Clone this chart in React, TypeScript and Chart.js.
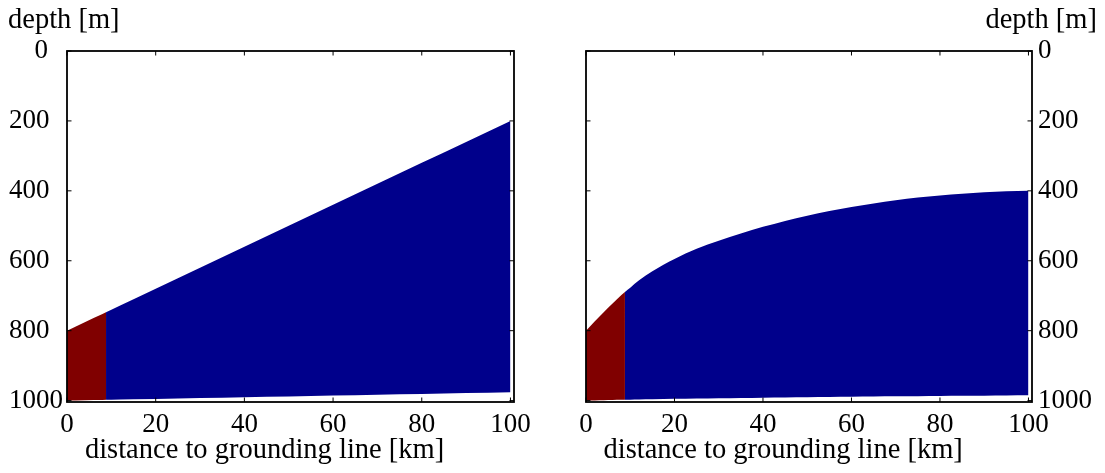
import React, { useEffect, useRef } from "react";
import { Chart, registerables } from "chart.js";

Chart.register(...registerables);

// ---- data ----
const distanceKm = [0, 2, 4, 6, 8, 8.8, 10, 12, 15, 20, 25, 30, 35, 40, 45, 50, 55, 60, 65, 70, 75, 80, 85, 90, 95, 100];
const leftTop = [800, 788, 776, 764, 752, 747.2, 740, 728, 710, 680, 650, 620, 590, 560, 530, 500, 470, 440, 410, 380, 350, 320, 290, 260, 230, 200];
const leftBottom = [1000, 999.5, 999, 998.6, 998.1, 997.9, 997.6, 997.1, 996.4, 995.2, 994, 992.8, 991.6, 990.4, 989.2, 988, 986.8, 985.6, 984.4, 983.2, 982, 980.8, 979.6, 978.4, 977.2, 976];
const rightTop = [800, 773, 747, 722, 698, 689, 677, 656, 630, 595, 566, 543, 522, 503, 486, 471, 458, 446, 436, 427, 419, 413, 408, 404, 401, 400];
const rightBottom = [1000, 999.4, 998.8, 998.3, 997.8, 997.6, 997.3, 996.8, 996.1, 995, 994, 993.1, 992.3, 991.5, 990.8, 990.1, 989.5, 988.9, 988.3, 987.8, 987.3, 986.8, 986.3, 985.8, 985.4, 985];
const cavityEdgeKm = 8.8;

const xTicks = [0, 20, 40, 60, 80, 100];
const yTicks = [0, 200, 400, 600, 800, 1000];
const xLabel = "distance to grounding line [km]";
const yLabel = "depth [m]";

const RED = "#800000";
const BLUE = "#00008b";
const TICK_FONT = '27px "Liberation Serif"';
const TITLE_FONT = '28.5px "Liberation Serif"';

function pts(xs: number[], ys: number[], keep: (x: number) => boolean) {
  const out: { x: number; y: number }[] = [];
  xs.forEach((x, i) => {
    if (keep(x)) out.push({ x, y: ys[i] });
  });
  return out;
}

const framePlugin = {
  id: "frame",
  afterDatasetsDraw(chart: any) {
    const side = chart.options.plugins.frame.side;
    const { ctx, chartArea } = chart;
    const { left, right, top, bottom } = chartArea;
    const xs = chart.scales.x;
    const ys = chart.scales.y;
    ctx.save();
    ctx.strokeStyle = "#000";
    ctx.lineWidth = 1;
    const tl = 4.5;
    xTicks.forEach((v) => {
      const px = xs.getPixelForValue(v);
      ctx.beginPath();
      ctx.moveTo(px, bottom);
      ctx.lineTo(px, bottom - tl);
      ctx.moveTo(px, top);
      ctx.lineTo(px, top + tl);
      ctx.stroke();
    });
    yTicks.forEach((v) => {
      const py = ys.getPixelForValue(v);
      ctx.beginPath();
      ctx.moveTo(left, py);
      ctx.lineTo(left + tl, py);
      ctx.moveTo(right, py);
      ctx.lineTo(right - tl, py);
      ctx.stroke();
    });
    ctx.lineWidth = 1.8;
    ctx.strokeRect(left, top, right - left, bottom - top);

    ctx.fillStyle = "#000";
    ctx.font = TICK_FONT;
    ctx.textBaseline = "alphabetic";
    ctx.textAlign = "center";
    xTicks.forEach((v) => {
      ctx.fillText(String(v), xs.getPixelForValue(v), bottom + 29.5);
    });

    yTicks.forEach((v) => {
      const py = ys.getPixelForValue(v) + 7;
      const t = String(v);
      if (side === "left") {
        const w = ctx.measureText(t).width;
        ctx.textAlign = "right";
        ctx.fillText(t, Math.max(left - 19, 9 + w), py);
      } else {
        ctx.textAlign = "left";
        ctx.fillText(t, right + 6, py);
      }
    });

    ctx.font = TITLE_FONT;
    ctx.textAlign = "center";
    ctx.fillText(xLabel, left + (right - left) * 0.442, bottom + 56);
    if (side === "left") {
      ctx.textAlign = "left";
      ctx.fillText(yLabel, 8, top - 23);
    } else {
      ctx.textAlign = "right";
      ctx.fillText(yLabel, chart.width - 8, top - 23);
    }
    ctx.restore();
  },
};

function Panel(props: {
  side: "left" | "right";
  top: number[];
  bottom: number[];
  smooth: boolean;
  canvasLeft: number;
  width: number;
  padding: { left: number; right: number; top: number; bottom: number };
}) {
  const ref = useRef<HTMLCanvasElement | null>(null);
  useEffect(() => {
    if (!ref.current) return;
    const isRed = (x: number) => x <= cavityEdgeKm;
    const isBlue = (x: number) => x >= cavityEdgeKm;
    const line = (data: any, color: string, fill: any) => ({
      data,
      borderWidth: 0,
      borderColor: "rgba(0,0,0,0)",
      backgroundColor: color,
      pointRadius: 0,
      fill,
      cubicInterpolationMode: props.smooth ? "monotone" : "default",
      tension: 0,
    });
    const chart = new Chart(ref.current, {
      type: "line",
      data: {
        datasets: [
          line(pts(distanceKm, props.bottom, isRed), RED, false),
          line(pts(distanceKm, props.top, isRed), RED, "-1"),
          line(pts(distanceKm, props.bottom, isBlue), BLUE, false),
          line(pts(distanceKm, props.top, isBlue), BLUE, "-1"),
        ] as any,
      },
      options: {
        animation: false,
        responsive: false,
        maintainAspectRatio: false,
        layout: { padding: props.padding },
        scales: {
          x: { type: "linear", min: 0, max: 100.8, display: false },
          y: { type: "linear", min: 0, max: 1004, reverse: true, display: false },
        },
        plugins: {
          legend: { display: false },
          tooltip: { enabled: false },
          frame: { side: props.side },
        } as any,
      },
      plugins: [framePlugin],
    });
    return () => chart.destroy();
  }, []);
  return (
    <canvas
      ref={ref}
      width={props.width}
      height={473}
      style={{ position: "absolute", left: props.canvasLeft, top: 0, width: props.width, height: 473 }}
    />
  );
}

export default function App() {
  return (
    <div style={{ position: "absolute", left: 0, top: 0, width: 1105, height: 473, background: "#fff" }}>
      <Panel
        side="left"
        top={leftTop}
        bottom={leftBottom}
        smooth={false}
        canvasLeft={0}
        width={550}
        padding={{ left: 67, right: 36, top: 51, bottom: 71 }}
      />
      <Panel
        side="right"
        top={rightTop}
        bottom={rightBottom}
        smooth={true}
        canvasLeft={550}
        width={555}
        padding={{ left: 36, right: 73, top: 51, bottom: 71 }}
      />
    </div>
  );
}
